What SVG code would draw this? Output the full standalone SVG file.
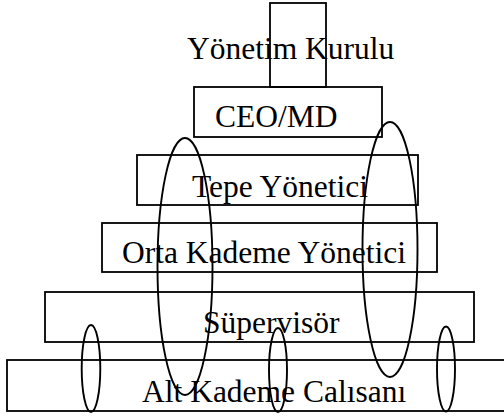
<svg xmlns="http://www.w3.org/2000/svg" width="504" height="416" viewBox="0 0 504 416">
  <style>
    .box { fill: none; stroke: #000; stroke-width: 1.8; }
    .ring { fill: none; stroke: #000; stroke-width: 1.9; }
    .lbl { font-family: "Liberation Serif", "Times New Roman", serif; font-size: 31.5px; fill: #000; }
  </style>
  <rect width="504" height="416" fill="#fff"/>

  <!-- hierarchy levels, top to bottom -->
  <g id="yonetim-kurulu">
    <rect class="box" x="270" y="3" width="56" height="84"/>
    <text class="lbl" x="187" y="59">Yönetim Kurulu</text>
  </g>
  <g id="ceo-md">
    <rect class="box" x="194" y="87" width="188" height="50"/>
    <text class="lbl" x="215" y="127">CEO/MD</text>
  </g>
  <g id="tepe-yonetici">
    <rect class="box" x="137" y="155" width="281" height="50"/>
    <text class="lbl" x="192" y="197">Tepe Yönetici</text>
  </g>
  <g id="orta-kademe">
    <rect class="box" x="102" y="223" width="335" height="49"/>
    <text class="lbl" x="122" y="263">Orta Kademe Yönetici</text>
  </g>
  <g id="supervisor">
    <rect class="box" x="45" y="292" width="429" height="50"/>
    <text class="lbl" x="203" y="333">Süpervisör</text>
  </g>
  <g id="alt-kademe">
    <rect class="box" x="7" y="360" width="510" height="51"/>
    <text class="lbl" x="142" y="402">Alt Kademe Calısanı</text>
  </g>

  <!-- loops linking the levels -->
  <g id="connectors">
    <ellipse class="ring" cx="185" cy="266.5" rx="27.5" ry="128.5"/>
    <ellipse class="ring" cx="390" cy="249.5" rx="27.5" ry="127.5"/>
    <ellipse class="ring" cx="91" cy="368.5" rx="9.3" ry="43.5"/>
    <ellipse class="ring" cx="278" cy="370" rx="9" ry="42"/>
    <ellipse class="ring" cx="446" cy="369" rx="9" ry="42.5"/>
  </g>
</svg>
